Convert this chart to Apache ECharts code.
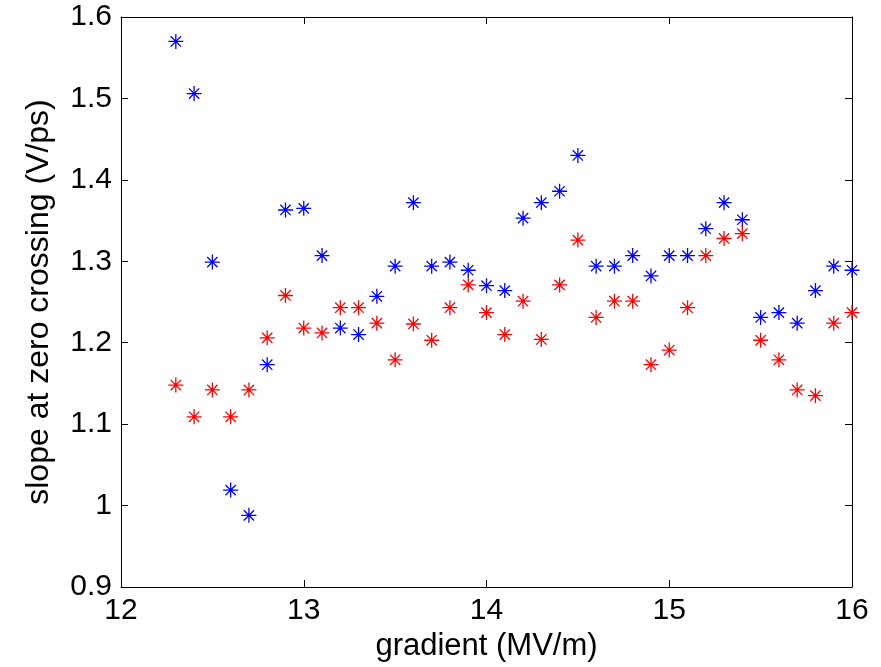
<!DOCTYPE html>
<html>
<head>
<meta charset="utf-8">
<script src="https://cdn.jsdelivr.net/npm/echarts@6/dist/echarts.min.js"></script>
<style>
  html, body { margin: 0; padding: 0; background: #fff; }
  #chart { width: 881px; height: 667px; }
</style>
</head>
<body>
<div id="chart"></div>
<script>
  // gradient values (MV/m)
  const gradient = [12.3, 12.4, 12.5, 12.6, 12.7, 12.8, 12.9, 13.0, 13.1, 13.2,
    13.3, 13.4, 13.5, 13.6, 13.7, 13.8, 13.9, 14.0, 14.1, 14.2,
    14.3, 14.4, 14.5, 14.6, 14.7, 14.8, 14.9, 15.0, 15.1, 15.2,
    15.3, 15.4, 15.5, 15.6, 15.7, 15.8, 15.9, 16.0]
  // slope at zero crossing (V/ps)
  const blueSlope = [1.570, 1.506, 1.299, 1.019, 0.988, 1.173, 1.363, 1.365, 1.307, 1.218,
    1.210, 1.257, 1.294, 1.372, 1.294, 1.299, 1.289, 1.270, 1.264, 1.353,
    1.372, 1.386, 1.430, 1.294, 1.294, 1.307, 1.282, 1.307, 1.307, 1.340,
    1.372, 1.351, 1.231, 1.237, 1.224, 1.264, 1.294, 1.289]
  const redSlope = [1.148, 1.109, 1.142, 1.109, 1.142, 1.206, 1.258, 1.218, 1.212, 1.243,
    1.243, 1.224, 1.179, 1.223, 1.203, 1.243, 1.271, 1.237, 1.210, 1.251,
    1.204, 1.271, 1.326, 1.231, 1.251, 1.251, 1.173, 1.191, 1.243, 1.307,
    1.328, 1.334, 1.203, 1.179, 1.142, 1.135, 1.224, 1.237]

  const star = 'path://M0,-8L0,8M-8,0L8,0M-5.5,-5.5L5.5,5.5M-5.5,5.5L5.5,-5.5'
  const font = 'Liberation Sans'

  function pairs(xs, ys) {
    return xs.map((x, i) => [x, ys[i]])
  }

  const chart = echarts.init(document.getElementById('chart'), null, { renderer: 'canvas' })

  const axisCommon = {
    axisLine: { onZero: false, lineStyle: { color: '#000', width: 1 } },
    axisTick: { inside: true, length: 7, lineStyle: { color: '#000' } },
    splitLine: { show: false }
  }

  chart.setOption({
    animation: false,
    backgroundColor: '#fff',
    textStyle: { fontFamily: font },
    grid: { left: 121, right: 29, top: 17, bottom: 80 },
    xAxis: [
      Object.assign({
        type: 'value', min: 12, max: 16, interval: 1,
        name: 'gradient (MV/m)', nameLocation: 'middle', nameGap: 41,
        nameTextStyle: { fontSize: 31, color: '#000', fontFamily: font },
        axisLabel: { fontSize: 30, color: '#000', margin: 9, fontFamily: font }
      }, axisCommon),
      Object.assign({
        type: 'value', min: 12, max: 16, interval: 1, position: 'top',
        axisLabel: { show: false }
      }, axisCommon)
    ],
    yAxis: [
      Object.assign({
        type: 'value', min: 0.9, max: 1.6, interval: 0.1,
        name: 'slope at zero crossing (V/ps)', nameLocation: 'middle', nameGap: 66,
        nameTextStyle: { fontSize: 32, color: '#000', fontFamily: font },
        axisLabel: { fontSize: 30, color: '#000', margin: 9, fontFamily: font,
          formatter: v => String(Math.round(v * 10) / 10) }
      }, axisCommon),
      Object.assign({
        type: 'value', min: 0.9, max: 1.6, interval: 0.1, position: 'right',
        axisLabel: { show: false }
      }, axisCommon)
    ],
    series: [
      {
        type: 'scatter',
        data: pairs(gradient, blueSlope),
        symbol: star,
        symbolSize: 15,
        itemStyle: { color: '#0000ff', borderColor: '#0000ff', borderWidth: 1.3, opacity: 1 }
      },
      {
        type: 'scatter',
        data: pairs(gradient, redSlope),
        symbol: star,
        symbolSize: 15,
        itemStyle: { color: '#ff0000', borderColor: '#ff0000', borderWidth: 1.3, opacity: 1 }
      }
    ]
  })
</script>
</body>
</html>
